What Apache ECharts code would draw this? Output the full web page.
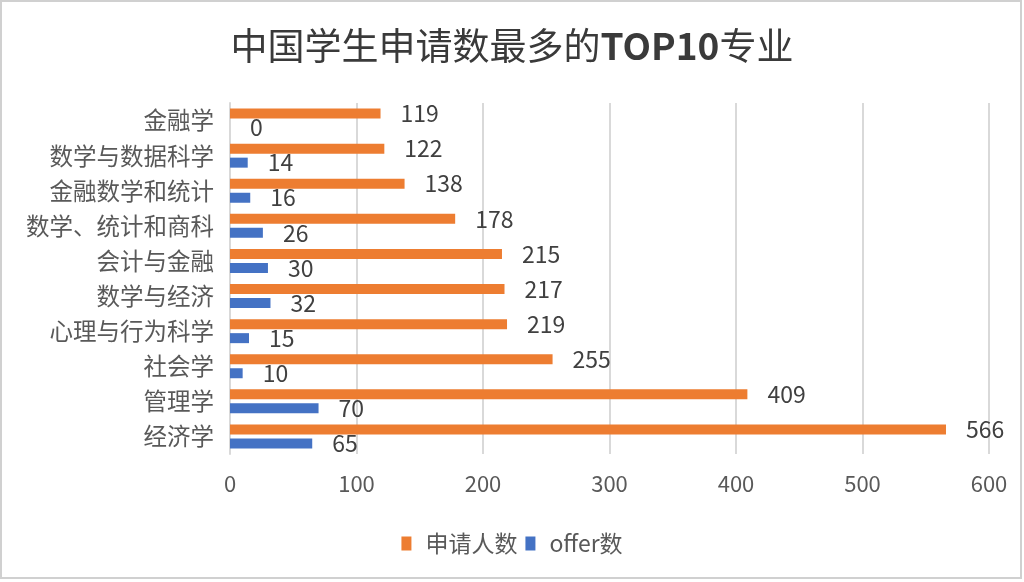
<!DOCTYPE html>
<html>
<head>
<meta charset="utf-8">
<script src="https://cdn.jsdelivr.net/npm/echarts@6/dist/echarts.min.js"></script>
<style>
html,body{margin:0;padding:0;background:#fff;}
#chart{width:1024px;height:582px;}
</style>
</head>
<body>
<div id="chart"></div>
<script>
const categories = ['经济学','管理学','社会学','心理与行为科学','数学与经济','会计与金融','数学、统计和商科','金融数学和统计','数学与数据科学','金融学'];
const applicants = [566,409,255,219,217,215,178,138,122,119];
const offers = [65,70,10,15,32,30,26,16,14,0];
const xTicks = [0,100,200,300,400,500,600];
const seriesNames = ['申请人数','offer数'];

const FONT = '"Noto Sans CJK SC", "Noto Sans", sans-serif';
const chart = echarts.init(document.getElementById('chart'), null, {renderer:'canvas'});
const labelStyle = {show:true, position:'right', distance:20, fontSize:23, color:'#404040', fontFamily:FONT, formatter:'{c}'};
chart.setOption({
  backgroundColor:'#ffffff',
  animation:false,
  textStyle:{fontFamily:FONT},
  title:{
    text:'{a|中国学生申请数最多的}{b|TOP10}{a|专业}',
    left:'center', top:22,
    textStyle:{
      rich:{
        a:{fontSize:37, color:'#3a3a3a', fontFamily:FONT, fontWeight:'normal'},
        b:{fontSize:37, color:'#3a3a3a', fontFamily:FONT, fontWeight:'bold'}
      }
    }
  },
  legend:{
    data:seriesNames,
    bottom:22, left:'center',
    icon:'rect', itemWidth:10, itemHeight:14, itemGap:8,
    textStyle:{fontSize:23, color:'#595959', fontFamily:FONT, padding:[0,0,0,9]}
  },
  grid:{left:230, right:35, top:103, bottom:128, containLabel:false},
  xAxis:{
    type:'value', min:xTicks[0], max:xTicks[xTicks.length-1], interval:100,
    axisLine:{show:false}, axisTick:{show:false},
    axisLabel:{fontSize:22, color:'#595959', margin:19, fontFamily:FONT},
    splitLine:{show:true, lineStyle:{color:'#D9D9D9', width:2}}
  },
  yAxis:{
    type:'category', data:categories,
    axisLine:{show:true, lineStyle:{color:'#D9D9D9', width:2}},
    axisTick:{show:false},
    axisLabel:{fontSize:23.5, color:'#595959', margin:16, fontFamily:FONT}
  },
  series:[
    {name:seriesNames[0], type:'bar', data:applicants, barWidth:10, barGap:'40%',
     itemStyle:{color:'#ED7D31'}, label:labelStyle},
    {name:seriesNames[1], type:'bar', data:offers, barWidth:10, barGap:'40%',
     itemStyle:{color:'#4472C4'}, label:labelStyle}
  ],
  graphic:[{type:'rect', shape:{x:1, y:1, width:1020, height:577}, style:{fill:'none', stroke:'#D0D0D0', lineWidth:2}, silent:true, z:100}]
});
</script>
</body>
</html>
